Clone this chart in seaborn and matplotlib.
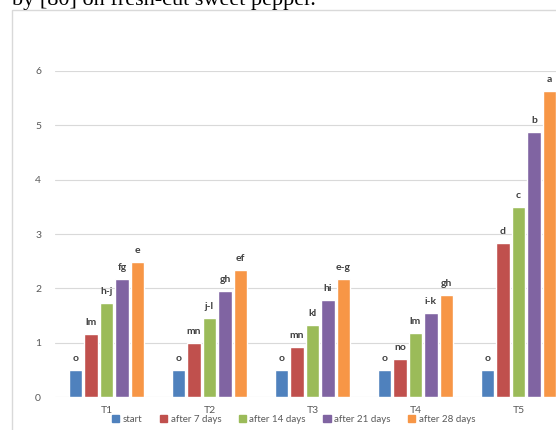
import matplotlib
matplotlib.use("Agg")
import matplotlib.pyplot as plt
import matplotlib.patches as mpatches
import seaborn as sns
import pandas as pd

treatments = ["T1", "T2", "T3", "T4", "T5"]
series = ["start", "after 7 days", "after 14 days", "after 21 days", "after 28 days"]
start = [0.5, 0.5, 0.5, 0.5, 0.5]
day7 = [1.17, 1.00, 0.92, 0.70, 2.84]
day14 = [1.74, 1.46, 1.33, 1.18, 3.50]
day21 = [2.17, 1.96, 1.79, 1.55, 4.88]
day28 = [2.48, 2.34, 2.18, 1.88, 5.62]
letters_start = ["o", "o", "o", "o", "o"]
letters_7 = ["lm", "mn", "mn", "no", "d"]
letters_14 = ["h-j", "j-l", "kl", "lm", "c"]
letters_21 = ["fg", "gh", "hi", "i-k", "b"]
letters_28 = ["e", "ef", "e-g", "gh", "a"]
colors = ["#4F81BD", "#C0504D", "#9BBB59", "#8064A2", "#F79646"]
yticks = [0, 1, 2, 3, 4, 5, 6]

values = [start, day7, day14, day21, day28]
letters = [letters_start, letters_7, letters_14, letters_21, letters_28]
rows = []
for s, vals in zip(series, values):
    for t, v in zip(treatments, vals):
        rows.append({"treatment": t, "series": s, "value": v})
df = pd.DataFrame(rows)

sns.set_style("white")
plt.rcParams["font.family"] = ["Lato", "DejaVu Sans"]

fig = plt.figure(figsize=(5.56, 4.30), dpi=100)
ax = fig.add_axes([55/556, 1 - 397.3/430, 515/556, (397.3 - 70.7)/430])

sns.barplot(data=df, x="treatment", y="value", hue="series", order=treatments,
            hue_order=series, palette=colors, width=0.75, gap=0.12,
            saturation=1, ax=ax, legend=False, errorbar=None)

for cont, labs in zip(ax.containers, letters):
    ax.bar_label(cont, labels=labs, padding=5, fontsize=7.5, fontweight="bold",
                 color="#404040")

ax.set_ylim(0, 6)
ax.set_yticks(yticks)
ax.set_yticklabels([str(v) for v in yticks])
ax.yaxis.grid(True, color="#D9D9D9", linewidth=0.8)
ax.set_axisbelow(True)
for sp in ax.spines.values():
    sp.set_visible(False)
ax.tick_params(axis="both", length=0, labelsize=7.5, colors="#595959")
ax.tick_params(axis="y", pad=10)
ax.tick_params(axis="x", pad=6)
ax.set_xlabel("")
ax.set_ylabel("")

handles = [mpatches.Patch(color=c, label=s) for c, s in zip(colors, series)]
fig.legend(handles=handles, loc="center left", bbox_to_anchor=(112/556, 1 - 419/430),
           ncol=5, frameon=False, fontsize=7.0, handlelength=0.75, handleheight=0.75,
           handletextpad=0.35, columnspacing=1.8, labelcolor="#595959",
           borderaxespad=0, borderpad=0)

# outer chart border
fig.patches.append(mpatches.Rectangle((12/556, -0.1), 1.0, 1.1 - 10/430,
                                      transform=fig.transFigure, fill=False,
                                      edgecolor="#D9D9D9", linewidth=1.0))

fig.text(12/556, 1 - 5/430, "by [80] on fresh-cut sweet pepper.", fontsize=16,
         family="Liberation Serif", color="black", va="baseline", ha="left")

fig.savefig("out.png", dpi=100)
